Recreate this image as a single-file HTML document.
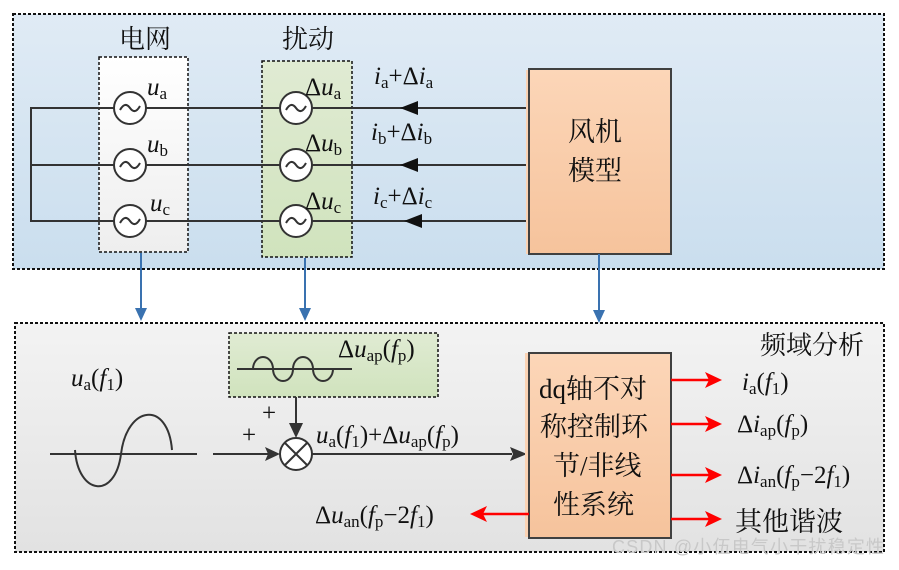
<!DOCTYPE html>
<html><head><meta charset="utf-8"><style>
body{margin:0;background:#fff}
svg text{font-family:"Liberation Serif","Noto Serif CJK SC",serif;fill:#111}
.cn{font-family:"Liberation Serif","Noto Serif CJK SC",serif}
</style></head><body>
<svg width="899" height="565" viewBox="0 0 899 565" xmlns="http://www.w3.org/2000/svg">
<defs>
<linearGradient id="gb" x1="0" y1="0" x2="0" y2="1"><stop offset="0" stop-color="#e0ebf5"/><stop offset="1" stop-color="#cadeee"/></linearGradient>
<linearGradient id="gg" x1="0" y1="0" x2="0" y2="1"><stop offset="0" stop-color="#f3f3f3"/><stop offset="1" stop-color="#e2e2e2"/></linearGradient>
<linearGradient id="go" x1="0" y1="0" x2="0" y2="1"><stop offset="0" stop-color="#fcd6b8"/><stop offset="1" stop-color="#f6c39c"/></linearGradient>
<linearGradient id="gw" x1="0" y1="0" x2="0" y2="1"><stop offset="0" stop-color="#ffffff"/><stop offset="1" stop-color="#eeeeee"/></linearGradient>
<linearGradient id="gn" x1="0" y1="0" x2="0" y2="1"><stop offset="0" stop-color="#e0ebd3"/><stop offset="1" stop-color="#d0e3bd"/></linearGradient>
</defs>
<rect x="13" y="14" width="871" height="255" fill="url(#gb)" stroke="#111" stroke-width="2" stroke-dasharray="3,2"/>
<rect x="15" y="323" width="869" height="229" fill="url(#gg)" stroke="#111" stroke-width="2" stroke-dasharray="3,2"/>
<rect x="99" y="57" width="89" height="195" fill="url(#gw)" stroke="#111" stroke-width="1.5" stroke-dasharray="3,2"/>
<rect x="262" y="61" width="90" height="196" fill="url(#gn)" stroke="#111" stroke-width="1.5" stroke-dasharray="3,2"/>
<text x="119" y="48" font-size="26" class="cn">电网</text>
<text x="282" y="48" font-size="26" class="cn">扰动</text>
<g stroke="#333" stroke-width="2" fill="none">
<path d="M527,108 H31 V221 H527 M31,165 H527"/>
</g>
<g stroke="#333" stroke-width="2" fill="#fff">
<circle cx="130" cy="108" r="16"/><circle cx="130" cy="165" r="16"/><circle cx="130" cy="221" r="16"/>
<circle cx="296" cy="108" r="16"/><circle cx="296" cy="165" r="16"/><circle cx="296" cy="221" r="16"/>
</g>
<g stroke="#333" stroke-width="2" fill="none">
<path d="M120,110 q5,-9 10,-2 t10,-2"/><path d="M120,167 q5,-9 10,-2 t10,-2"/><path d="M120,223 q5,-9 10,-2 t10,-2"/>
<path d="M286,110 q5,-9 10,-2 t10,-2"/><path d="M286,167 q5,-9 10,-2 t10,-2"/><path d="M286,223 q5,-9 10,-2 t10,-2"/>
</g>
<g fill="#111"><path d="M400,108 l18,-7 v14z"/><path d="M400,165 l18,-7 v14z"/><path d="M404,221 l18,-7 v14z"/></g>
<g font-size="25" font-style="italic">
<text x="147" y="95">u<tspan font-size="17" font-style="normal" dy="4">a</tspan></text>
<text x="147" y="152">u<tspan font-size="17" font-style="normal" dy="4">b</tspan></text>
<text x="150" y="211">u<tspan font-size="17" font-style="normal" dy="4">c</tspan></text>
<text x="305" y="95"><tspan font-style="normal">Δ</tspan>u<tspan font-size="17" font-style="normal" dy="4">a</tspan></text>
<text x="305" y="151"><tspan font-style="normal">Δ</tspan>u<tspan font-size="17" font-style="normal" dy="4">b</tspan></text>
<text x="305" y="209"><tspan font-style="normal">Δ</tspan>u<tspan font-size="17" font-style="normal" dy="4">c</tspan></text>
<text x="374" y="84">i<tspan font-size="17" font-style="normal" dy="4">a</tspan><tspan font-style="normal" dy="-4">+Δ</tspan>i<tspan font-size="17" font-style="normal" dy="4">a</tspan></text>
<text x="371" y="140">i<tspan font-size="17" font-style="normal" dy="4">b</tspan><tspan font-style="normal" dy="-4">+Δ</tspan>i<tspan font-size="17" font-style="normal" dy="4">b</tspan></text>
<text x="373" y="204">i<tspan font-size="17" font-style="normal" dy="4">c</tspan><tspan font-style="normal" dy="-4">+Δ</tspan>i<tspan font-size="17" font-style="normal" dy="4">c</tspan></text>
</g>
<rect x="526" y="70" width="3" height="184" fill="#fbd3b4"/>
<rect x="529" y="69" width="142" height="185" fill="url(#go)" stroke="#404040" stroke-width="2"/>
<text x="568" y="141" font-size="27" class="cn">风机</text>
<text x="568" y="180" font-size="27" class="cn">模型</text>
<g stroke="#3a72b0" stroke-width="2">
<line x1="141" y1="253" x2="141" y2="310"/><line x1="305" y1="258" x2="305" y2="310"/><line x1="599" y1="254" x2="599" y2="312"/>
</g>
<g fill="#3a72b0"><path d="M135,308 h12 l-6,13z"/><path d="M299,308 h12 l-6,13z"/><path d="M593,310 h12 l-6,13z"/></g>
<text x="760" y="354" font-size="26" class="cn">频域分析</text>
<rect x="229" y="333" width="209" height="64" fill="url(#gn)" stroke="#111" stroke-width="1.5" stroke-dasharray="3,2"/>
<g stroke="#333" stroke-width="2" fill="none">
<line x1="237" y1="369" x2="352" y2="369"/>
<path d="M253,369 a10,12 0 0 1 20,0 a10,12 0 0 0 20,0 a10,12 0 0 1 20,0 a10,12 0 0 0 20,0"/>
<line x1="50" y1="454" x2="197" y2="454"/>
<path d="M75,450 C78,495 115,500 121,454 C127,405 168,400 172,450"/>
<line x1="296" y1="397" x2="296" y2="426"/>
<line x1="213" y1="454" x2="268" y2="454"/>
<line x1="312" y1="454" x2="512" y2="454"/>
</g>
<g fill="#333"><path d="M289,423 h14 l-7,15z"/><path d="M265,447 l15,7 l-15,7 l3,-7z"/><path d="M510,447 l17,7 l-17,7 l3,-7z"/></g>
<circle cx="296" cy="454" r="16" fill="#fff" stroke="#333" stroke-width="2"/>
<path d="M285,443 L307,465 M307,443 L285,465" stroke="#333" stroke-width="2"/>
<text x="262" y="421" font-size="25" font-family="Liberation Sans">+</text>
<text x="242" y="443" font-size="25" font-family="Liberation Sans">+</text>
<g font-size="25" font-style="italic">
<text x="338" y="357"><tspan font-style="normal">Δ</tspan>u<tspan font-size="17" font-style="normal" dy="4">ap</tspan><tspan font-style="normal" dy="-4">(</tspan>f<tspan font-size="17" font-style="normal" dy="4">p</tspan><tspan font-style="normal" dy="-4">)</tspan></text>
<text x="71" y="386">u<tspan font-size="17" font-style="normal" dy="4">a</tspan><tspan font-style="normal" dy="-4">(</tspan>f<tspan font-size="17" font-style="normal" dy="4">1</tspan><tspan font-style="normal" dy="-4">)</tspan></text>
<text x="316" y="443">u<tspan font-size="17" font-style="normal" dy="4">a</tspan><tspan font-style="normal" dy="-4">(</tspan>f<tspan font-size="17" font-style="normal" dy="4">1</tspan><tspan font-style="normal" dy="-4">)+Δ</tspan>u<tspan font-size="17" font-style="normal" dy="4">ap</tspan><tspan font-style="normal" dy="-4">(</tspan>f<tspan font-size="17" font-style="normal" dy="4">p</tspan><tspan font-style="normal" dy="-4">)</tspan></text>
</g>
<rect x="525" y="353" width="3" height="184" fill="#fbd3b4"/>
<rect x="529" y="353" width="142" height="185" fill="url(#go)" stroke="#404040" stroke-width="2"/>
<g font-size="27" class="cn"><text x="539" y="398">dq轴不对</text><text x="540" y="436">称控制环</text><text x="553" y="475">节/非线</text><text x="553" y="514">性系统</text></g>
<g stroke="#f00" stroke-width="2.5">
<line x1="671" y1="380" x2="710" y2="380"/><line x1="671" y1="424" x2="710" y2="424"/>
<line x1="671" y1="475" x2="710" y2="475"/><line x1="671" y1="519" x2="710" y2="519"/>
<line x1="529" y1="514" x2="482" y2="514"/>
</g>
<g fill="#f00"><path d="M705,372 l17,8 l-17,8 l4,-8z"/><path d="M705,416 l17,8 l-17,8 l4,-8z"/><path d="M705,467 l17,8 l-17,8 l4,-8z"/><path d="M705,511 l17,8 l-17,8 l4,-8z"/><path d="M487,506 l-17,8 l17,8 l-4,-8z"/></g>
<g font-size="25" font-style="italic">
<text x="742" y="390">i<tspan font-size="17" font-style="normal" dy="4">a</tspan><tspan font-style="normal" dy="-4">(</tspan>f<tspan font-size="17" font-style="normal" dy="4">1</tspan><tspan font-style="normal" dy="-4">)</tspan></text>
<text x="737" y="432"><tspan font-style="normal">Δ</tspan>i<tspan font-size="17" font-style="normal" dy="4">ap</tspan><tspan font-style="normal" dy="-4">(</tspan>f<tspan font-size="17" font-style="normal" dy="4">p</tspan><tspan font-style="normal" dy="-4">)</tspan></text>
<text x="737" y="483"><tspan font-style="normal">Δ</tspan>i<tspan font-size="17" font-style="normal" dy="4">an</tspan><tspan font-style="normal" dy="-4">(</tspan>f<tspan font-size="17" font-style="normal" dy="4">p</tspan><tspan font-style="normal" dy="-4">−2</tspan>f<tspan font-size="17" font-style="normal" dy="4">1</tspan><tspan font-style="normal" dy="-4">)</tspan></text>
<text x="315" y="523"><tspan font-style="normal">Δ</tspan>u<tspan font-size="17" font-style="normal" dy="4">an</tspan><tspan font-style="normal" dy="-4">(</tspan>f<tspan font-size="17" font-style="normal" dy="4">p</tspan><tspan font-style="normal" dy="-4">−2</tspan>f<tspan font-size="17" font-style="normal" dy="4">1</tspan><tspan font-style="normal" dy="-4">)</tspan></text>
</g>
<text x="735" y="531" font-size="27" class="cn">其他谐波</text>
<text x="612" y="553" font-size="18" style="fill:#c8c8c8;font-family:'Liberation Sans','Noto Sans CJK SC',sans-serif" textLength="272">CSDN @小伍电气小干扰稳定性</text>
</svg>
</body></html>
